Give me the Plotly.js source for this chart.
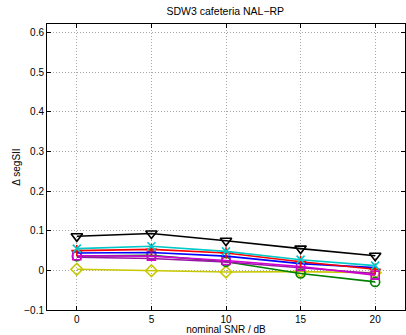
<!DOCTYPE html>
<html><head><meta charset="utf-8">
<script src="https://cdn.plot.ly/plotly-3.0.1.min.js"></script>
<style>html,body{margin:0;padding:0;background:#fff}</style>
</head><body><div id="chart" style="width:406px;height:335px"></div>
<script>
const snr = [0, 5, 10, 15, 20];
const seriesNames = ["k", "c", "r", "b", "m", "purple", "g", "y"];
const valsK = [0.086, 0.093, 0.075, 0.055, 0.037];
const valsC = [0.055, 0.061, 0.048, 0.027, 0.012];
const valsR = [0.050, 0.053, 0.044, 0.022, 0.003];
const valsB = [0.044, 0.045, 0.036, 0.017, 0.007];
const valsM = [0.037, 0.036, 0.025, 0.010, -0.012];
const valsP = [0.033, 0.030, 0.021, 0.006, -0.008];
const valsG = [0.036, 0.038, 0.022, -0.008, -0.029];
const valsY = [0.003, -0.001, -0.004, -0.003, -0.006];

const xTicks = [0, 5, 10, 15, 20];
const yTicks = [-0.1, 0, 0.1, 0.2, 0.3, 0.4, 0.5, 0.6];
const yTickText = ["\u22120.1", "0", "0.1", "0.2", "0.3", "0.4", "0.5", "0.6"];

function tr(y, color, symbol, size) {
  return {x: snr, y: y, type: "scatter", mode: symbol ? "lines+markers" : "lines",
    line: {color: color, width: 1.6},
    marker: {symbol: symbol || "circle", size: size || 8, color: color, line: {color: color, width: 1.6}},
    showlegend: false, hoverinfo: "skip"};
}
const data = [
  tr(valsY, "#c8c800", "diamond-open", 9),
  tr(valsG, "#008000", "circle-open", 9),
  tr(valsP, "#9a14a8", null),
  tr(valsM, "#d000d0", "square-open", 8),
  tr(valsB, "#0000ff", null),
  tr(valsR, "#ff0000", "cross-thin-open", 8),
  tr(valsC, "#00c8c8", "x-thin-open", 8),
  tr(valsK, "#000000", "triangle-down-open", 10)
];
const font = {family: "Liberation Sans, Arial, sans-serif", size: 10, color: "#000"};
const layout = {
  width: 406, height: 335,
  margin: {l: 47, r: 1, t: 24, b: 25},
  paper_bgcolor: "#fff", plot_bgcolor: "#fff",
  font: font,
  title: {text: "SDW3 cafeteria NAL\u2212RP", font: {family: font.family, size: 10.5, color: "#000"}, x: 0.555, xanchor: "center", y: 0.965, yanchor: "middle"},
  xaxis: {range: [-2, 22], tickvals: xTicks, ticktext: xTicks.map(String),
    showline: true, linecolor: "#000", linewidth: 1, mirror: "ticks",
    ticks: "inside", ticklen: 4, tickcolor: "#000",
    showgrid: true, gridcolor: "#a8a8a8", griddash: "1px,2px", gridwidth: 1,
    zeroline: false, tickfont: font,
    title: {text: "nominal SNR / dB", font: font, standoff: 3}},
  yaxis: {range: [-0.1, 0.622], tickvals: yTicks, ticktext: yTickText,
    showline: true, linecolor: "#000", linewidth: 1, mirror: "ticks",
    ticks: "inside", ticklen: 4, tickcolor: "#000",
    showgrid: true, gridcolor: "#a8a8a8", griddash: "1px,2px", gridwidth: 1,
    zeroline: false, tickfont: font,
    title: {text: "\u0394 segSII", font: font, standoff: 1}}
};
Plotly.newPlot("chart", data, layout, {staticPlot: true, displayModeBar: false});
</script></body></html>
